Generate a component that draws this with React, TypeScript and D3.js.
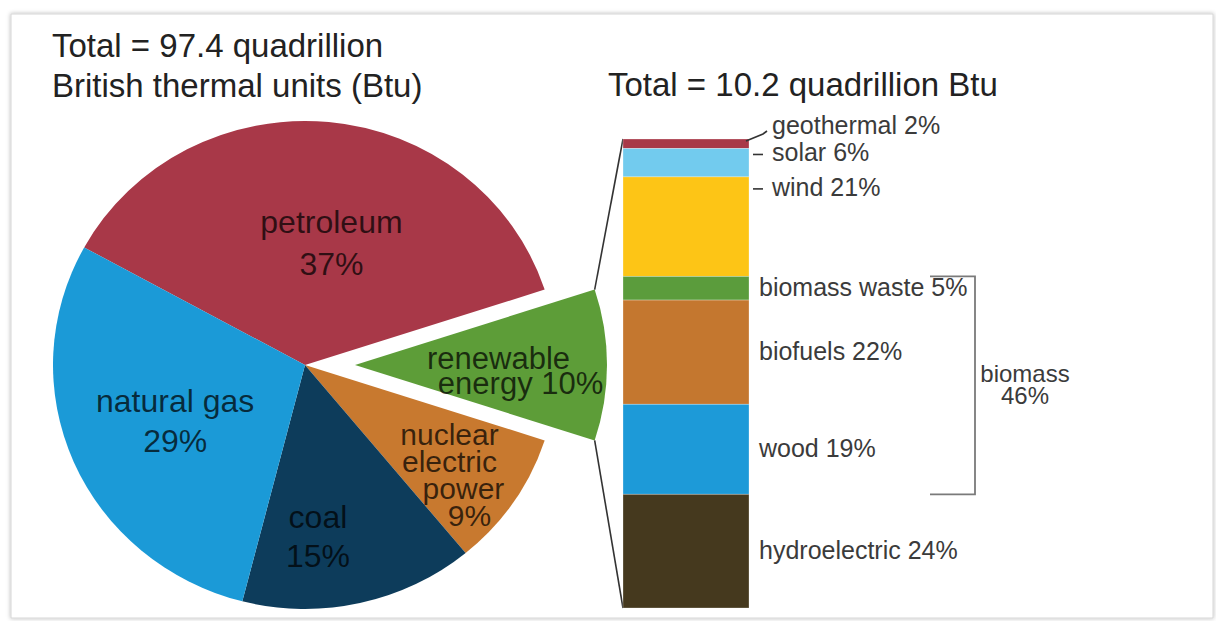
import React from "react";
import * as d3 from "d3";

// U.S. primary energy consumption by source, with the renewable slice broken out
const totalAll = 97.4;
const totalRenewable = 10.2;

const categories = ["petroleum", "renewable", "nuclear", "coal", "natural gas"];
const shares = [37, 10, 9, 15, 29];
const pieColors = ["#a83848", "#5d9d38", "#c8792f", "#0d3c5b", "#1b9ad7"];
// words of each slice label; the percentage is appended as its own line
// unless the slice says to put it inline on the last word line
const labelWords = [["petroleum"], ["renewable", "energy"], ["nuclear", "electric", "power"], ["coal"], ["natural gas"]];
const percentInline = [false, true, false, false, false];

const sources = ["geothermal", "solar", "wind", "biomass waste", "biofuels", "wood", "hydroelectric"];
const sourceShares = [2, 6, 21, 5, 22, 19, 24];
const sourceColors = ["#a83848", "#72cbee", "#fdc516", "#5b9c3c", "#c4772f", "#1d9ad8", "#45391e"];
const biomassParts = ["biomass waste", "biofuels", "wood"];

const W = 1216;
const H = 621;
const FONT = "'Liberation Sans', Arial, Helvetica, sans-serif";

// label placement per slice: radius as a fraction of R, angular nudge in degrees,
// font size, per-line x offsets and line spacing
const labelPlace = [
  { r: 0.55, turn: 5.6, size: 32, dx: [0, 0], lh: 42 },
  { r: 0.57, turn: 1.6, size: 31, dx: [0, 22], lh: 25 },
  { r: 0.66, turn: -4.5, size: 30, dx: [0, 0, 14, 20], lh: 27 },
  { r: 0.67, turn: 8.2, size: 32, dx: [0, 0], lh: 39 },
  { r: 0.55, turn: 2.9, size: 32, dx: [0, 0], lh: 40 },
];

export default function App() {
  const cx = 305;
  const cy = 365;
  const R = 244;
  const sx = 252 / 244; // pie is drawn slightly wider than tall
  const explode = 50;
  const renewIdx = categories.indexOf("renewable");

  const sum = d3.sum(shares);
  const start = Math.PI / 2 - ((d3.sum(shares.slice(0, renewIdx)) + shares[renewIdx] / 2) / sum) * 2 * Math.PI;
  const arcs = d3
    .pie<number>()
    .sort(null)
    .value((d) => d)
    .startAngle(start)
    .endAngle(start + 2 * Math.PI)(shares);
  const arcGen = d3.arc<d3.PieArcDatum<number>>().innerRadius(0).outerRadius(R);

  const toXY = (a: number, r: number, ox = 0) => [cx + ox + sx * r * Math.sin(a), cy - r * Math.cos(a)];

  const renew = arcs[renewIdx];
  const renewMid = (renew.startAngle + renew.endAngle) / 2;
  const exX = explode * Math.sin(renewMid);
  const exY = -explode * Math.cos(renewMid);

  // stacked bar of renewable sources
  const barX0 = 623;
  const barX1 = 749;
  const barTop = 139;
  const barBottom = 608;
  const y = d3.scaleLinear().domain([0, d3.sum(sourceShares)]).range([barTop, barBottom]);
  const cum = Array.from(d3.cumsum(sourceShares));
  const segs = sourceShares.map((v, i) => ({
    name: sources[i],
    value: v,
    y0: y(cum[i] - v),
    y1: y(cum[i]),
    color: sourceColors[i],
  }));

  const upper = [cx + exX + sx * R * Math.sin(renew.startAngle), cy + exY - R * Math.cos(renew.startAngle)];
  const lower = [cx + exX + sx * R * Math.sin(renew.endAngle), cy + exY - R * Math.cos(renew.endAngle)];

  const bio = segs.filter((s) => biomassParts.includes(s.name));
  const bioTop = d3.min(bio, (s) => s.y0) as number;
  const bioBottom = d3.max(bio, (s) => s.y1) as number;
  const bioShare = d3.sum(bio, (s) => s.value);
  const bioMid = (bioTop + bioBottom) / 2;
  const brL = barX1 + 181;
  const brR = barX1 + 226;

  const labelColor = "#3b3b3b";
  const barFont = 25;

  return (
    <svg
      width={W}
      height={H}
      viewBox={`0 0 ${W} ${H}`}
      style={{ position: "absolute", left: 0, top: 0, display: "block", background: "#fff" }}
      fontFamily={FONT}
    >
      <defs>
        <filter id="frameShadow" x="-5%" y="-5%" width="110%" height="110%">
          <feDropShadow dx="0" dy="0" stdDeviation="2.2" floodColor="#000" floodOpacity="0.28" />
        </filter>
      </defs>
      <rect x={0} y={0} width={W} height={H} fill="#fff" />
      <rect x={11} y={14} width={1202} height={604} fill="#fff" stroke="#d6d6d6" strokeWidth={1} filter="url(#frameShadow)" />

      {/* titles */}
      <text x={52} y={57} fontSize={33} fill="#222">{`Total = ${totalAll} quadrillion`}</text>
      <text x={52} y={97} fontSize={33} fill="#222">British thermal units (Btu)</text>
      <text x={608} y={96} fontSize={33} fill="#222">{`Total = ${totalRenewable} quadrillion Btu`}</text>

      {/* pie */}
      <g transform={`translate(${cx},${cy}) scale(${sx},1)`}>
        {arcs.map((a, i) =>
          i === renewIdx ? null : <path key={categories[i]} d={arcGen(a) || ""} fill={pieColors[i]} />
        )}
      </g>
      <g transform={`translate(${cx + exX},${cy + exY}) scale(${sx},1)`}>
        <path d={arcGen(renew) || ""} fill={pieColors[renewIdx]} />
      </g>

      {/* connectors from the broken-out slice to the bar */}
      <line x1={upper[0]} y1={upper[1]} x2={barX0} y2={barTop} stroke="#333" strokeWidth={1.6} />
      <line x1={lower[0]} y1={lower[1]} x2={barX0} y2={barBottom} stroke="#333" strokeWidth={1.6} />

      {/* pie labels */}
      {arcs.map((a, i) => {
        const p = labelPlace[i];
        const mid = (a.startAngle + a.endAngle) / 2 + (p.turn * Math.PI) / 180;
        const ox = i === renewIdx ? exX : 0;
        const [lx, ly0] = toXY(mid, p.r * R, ox);
        const ly = ly0 + (i === renewIdx ? exY : 0);
        const words = labelWords[i].slice();
        if (percentInline[i]) words[words.length - 1] = `${words[words.length - 1]} ${shares[i]}%`;
        else words.push(`${shares[i]}%`);
        return (
          <text key={categories[i]} fontSize={p.size} fill="#000" fillOpacity={0.72} textAnchor="middle">
            {words.map((w, j) => (
              <tspan key={j} x={lx + (p.dx[j] || 0)} y={ly + j * p.lh}>
                {w}
              </tspan>
            ))}
          </text>
        );
      })}

      {/* stacked bar */}
      {segs.map((s) => (
        <rect
          key={s.name}
          x={barX0}
          y={s.y0}
          width={barX1 - barX0}
          height={s.y1 - s.y0}
          fill={s.color}
          stroke="#fff"
          strokeOpacity={0.35}
          strokeWidth={0.8}
        />
      ))}

      {/* bar labels */}
      {segs.map((s, i) => {
        const txt = `${s.name} ${s.value}%`;
        if (i === 0) {
          return (
            <g key={s.name}>
              <polyline
                points={`${barX1 - 3},${s.y0 + 2} ${barX1 + 14},${s.y0 - 5} ${barX1 + 18},${s.y0 - 8}`}
                fill="none"
                stroke="#333"
                strokeWidth={1.6}
              />
              <text x={barX1 + 23} y={s.y0 - 5} fontSize={barFont} fill={labelColor}>{txt}</text>
            </g>
          );
        }
        if (i === 1 || i === 2) {
          const ly = i === 1 ? s.y0 + 6 : s.y0 + 12;
          return (
            <g key={s.name}>
              <line x1={barX1 + 4} x2={barX1 + 14} y1={ly} y2={ly} stroke="#333" strokeWidth={1.6} />
              <text x={barX1 + 23} y={ly + 7} fontSize={barFont} fill={labelColor}>{txt}</text>
            </g>
          );
        }
        return (
          <text key={s.name} x={barX1 + 10} y={(s.y0 + s.y1) / 2 + 8} fontSize={barFont} fill={labelColor}>
            {txt}
          </text>
        );
      })}

      {/* biomass bracket */}
      <polyline
        points={`${brL},${bioTop} ${brR},${bioTop} ${brR},${bioBottom} ${brL},${bioBottom}`}
        fill="none"
        stroke="#7a7a7a"
        strokeWidth={1.8}
      />
      <text fontSize={24} fill={labelColor} textAnchor="middle">
        <tspan x={brR + 50} y={bioMid - 3}>biomass</tspan>
        <tspan x={brR + 50} y={bioMid + 19}>{`${bioShare}%`}</tspan>
      </text>
    </svg>
  );
}
